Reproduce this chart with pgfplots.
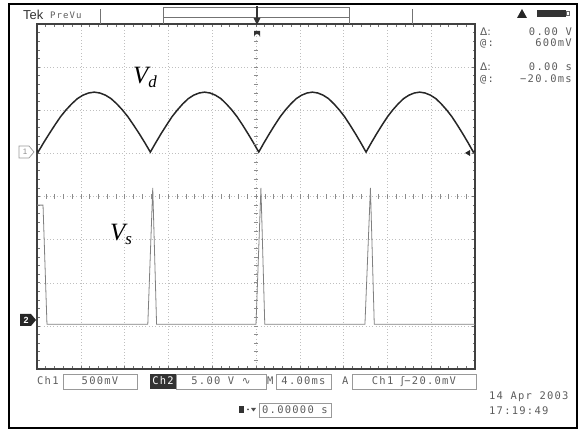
\documentclass[border=0pt]{standalone}
\usepackage{pgfplots}
\pgfplotsset{compat=1.18}
\usepackage{fontspec}
\setmainfont{Liberation Sans}
\newfontfamily\tnr{Liberation Serif}
\newfontfamily\djv{DejaVu Sans}
\newfontfamily\scopefont[LetterSpace=12]{DejaVu Sans Mono}
\definecolor{scr}{HTML}{5C5C5C}

\begin{document}
\begin{tikzpicture}
\useasboundingbox (0,0) rectangle (583bp,432bp);

% scope screen: 10 div x 4 ms, 8 div vertical (values in divisions)
\begin{axis}[
    at={(37bp,63bp)}, anchor=south west,
    scale only axis, width=438bp, height=345bp,
    xmin=0, xmax=40, ymin=0, ymax=8,
    xtick={0,4,...,40}, ytick={0,1,...,8},
    minor x tick num=4, minor y tick num=4,
    xticklabels={}, yticklabels={},
    tick align=inside, major tick length=3bp, minor tick length=2.5bp,
    tick style={black!55, line width=0.6bp},
    grid=major,
    major grid style={gray!50, dash pattern=on 0.7pt off 2.6pt},
    axis line style={black!75, line width=1.4bp},
]
% Vd (ch1)
\addplot[black!85, line width=1.5bp] coordinates {
    (0,5.07)
    (0.10,5.03) (0.61,5.25) (1.13,5.46) (1.64,5.66) (2.15,5.85) (2.66,6.01) (3.18,6.15)
    (3.69,6.27) (4.20,6.35) (4.71,6.40) (5.23,6.42) (5.74,6.40) (6.25,6.35) (6.76,6.27)
    (7.28,6.15) (7.79,6.01) (8.30,5.85) (8.81,5.66) (9.33,5.46) (9.84,5.25)
    (10.35,5.03) (10.85,5.25) (11.34,5.46) (11.84,5.66) (12.33,5.85) (12.83,6.01) (13.32,6.15)
    (13.82,6.27) (14.31,6.35) (14.81,6.40) (15.30,6.42) (15.80,6.40) (16.29,6.35) (16.79,6.27)
    (17.28,6.15) (17.78,6.01) (18.27,5.85) (18.77,5.66) (19.26,5.46) (19.76,5.25)
    (20.25,5.03) (20.74,5.25) (21.23,5.46) (21.72,5.66) (22.21,5.85) (22.70,6.01) (23.19,6.15)
    (23.68,6.27) (24.17,6.35) (24.66,6.40) (25.15,6.42) (25.64,6.40) (26.13,6.35) (26.62,6.27)
    (27.11,6.15) (27.60,6.01) (28.09,5.85) (28.58,5.66) (29.07,5.46) (29.56,5.25)
    (30.05,5.03) (30.54,5.25) (31.03,5.46) (31.52,5.66) (32.01,5.85) (32.50,6.01) (32.99,6.15)
    (33.48,6.27) (33.97,6.35) (34.46,6.40) (34.95,6.42) (35.44,6.40) (35.93,6.35) (36.42,6.27)
    (36.91,6.15) (37.40,6.01) (37.89,5.85) (38.38,5.66) (38.87,5.46) (39.36,5.25)
    (39.85,5.03) (40,5.06)
};
% Vs (ch2)
\addplot[black!50, line width=0.8bp] coordinates {
    (0,3.80) (0.55,3.80) (0.91,1.04)
    (10.12,1.04) (10.57,4.20) (10.92,1.04)
    (20.00,1.04) (20.45,4.20) (20.80,1.04)
    (29.95,1.04) (30.45,4.20) (30.80,1.04)
    (40,1.04)
};
\end{axis}

\begin{scope}[shift={(0bp,432bp)}, x=1bp, y=-1bp,
    font=\scopefont\fontsize{10.5}{11}\selectfont, text=scr]
  % outer border
  \draw[line width=2.2bp] (9,4) rectangle (577,428);

  % centre cross ticks
  \foreach \k in {1,...,49} \draw[black!45, line width=0.5bp] ({37+\k*8.76},194.3) -- ({37+\k*8.76},198.7);
  \foreach \k in {1,...,39} \draw[black!45, line width=0.5bp] (253.8,{24+\k*8.625}) -- (258.2,{24+\k*8.625});

  % header
  \node[anchor=base west, inner sep=0, font=\fontsize{13}{13}\selectfont, text=black!80] at (23,20) {Tek};
  \node[anchor=base west, inner sep=0, font=\scopefont\fontsize{9}{9}\selectfont] at (50,19) {PreVu};
  \draw[black!55, line width=0.6bp] (100,9) -- (100,24) (412,9) -- (412,24);
  \draw[black!55, line width=0.6bp] (163,24) -- (163,7) -- (349,7) -- (349,24);
  \draw[black!55, line width=0.6bp] (163,17) -- (349,17);
  \draw[black!80, line width=1.6bp] (257,6) -- (257,20);
  \fill[black!80] (253.5,18) -- (260.5,18) -- (257,25) -- cycle;
  \fill[black!80] (254,31) -- (260,31) -- (260,37) arc[start angle=0, end angle=-180, radius=3] -- cycle;

  % top right readouts
  \fill[black!85] (517,18) -- (522,9) -- (527,18) -- cycle;
  \fill[black!80] (537,10) rectangle (566,17);
  \draw[black!60, line width=0.6bp] (566,11.5) rectangle (569,15.5);
  \node[anchor=base west, inner sep=0] at (480,36) {\djv Δ:};
  \node[anchor=base east, inner sep=0] at (572,36) {0.00 V};
  \node[anchor=base west, inner sep=0] at (480,47) {@:};
  \node[anchor=base east, inner sep=0] at (572,47) {600mV};
  \node[anchor=base west, inner sep=0] at (480,71) {\djv Δ:};
  \node[anchor=base east, inner sep=0] at (572,71) {0.00 s};
  \node[anchor=base west, inner sep=0] at (480,83) {@:};
  \node[anchor=base east, inner sep=0] at (572,83) {−20.0ms};

  % channel markers
  \draw[black!40, line width=0.7bp] (19,146) -- (29,146) -- (34,152) -- (29,158) -- (19,158) -- cycle;
  \node[inner sep=0, font=\fontsize{8}{8}\selectfont, text=black!45] at (25,152) {1};
  \fill[black!85] (20,314) -- (31,314) -- (36,320) -- (31,326) -- (20,326) -- cycle;
  \node[inner sep=0, font=\bfseries\fontsize{9}{9}\selectfont, text=white] at (26,320) {2};
  \fill[black!85] (465,153) -- (470,150) -- (470,156) -- cycle;

  % trace labels
  \node[anchor=base west, inner sep=0, text=black] at (133,84)
    {\tnr\itshape\fontsize{25}{25}\selectfont V\raisebox{-4bp}{\fontsize{17}{17}\selectfont d}};
  \node[anchor=base west, inner sep=0, text=black] at (110,241)
    {\tnr\itshape\fontsize{25}{25}\selectfont V\raisebox{-4bp}{\fontsize{17}{17}\selectfont s}};

  % bottom status line
  \node[anchor=base west, inner sep=0] at (37,385) {Ch1};
  \draw[black!40, line width=0.6bp] (63,374) rectangle (137,389);
  \node[anchor=base, inner sep=0] at (100,385) {500mV};
  \fill[black!80] (150,374) rectangle (176,389);
  \node[anchor=base, inner sep=0, text=white] at (163,385) {Ch2};
  \draw[black!40, line width=0.6bp] (176,374) rectangle (266,389);
  \node[anchor=base, inner sep=0] at (221,385) {5.00 V {\djv ∿}};
  \node[anchor=base west, inner sep=0] at (267,385) {M};
  \draw[black!40, line width=0.6bp] (276,374) rectangle (331,389);
  \node[anchor=base, inner sep=0] at (303.5,385) {4.00ms};
  \node[anchor=base west, inner sep=0] at (342,385) {A};
  \draw[black!40, line width=0.6bp] (352,374) rectangle (476,389);
  \node[anchor=base, inner sep=0] at (414,385) {Ch1 {\djv ʃ}−20.0mV};

  \node[anchor=base west, inner sep=0] at (489,400) {14 Apr 2003};
  \node[anchor=base west, inner sep=0] at (489,415) {17:19:49};
  \fill[black!80] (239,406) rectangle (244,413);
  \fill[black!70] (248,409.5) circle (1);
  \fill[black!70] (251,408) -- (256,408) -- (253.5,411.5) -- cycle;
  \draw[black!40, line width=0.6bp] (259,403) rectangle (331,417);
  \node[anchor=base west, inner sep=0] at (262,414) {0.00000 s};
\end{scope}
\end{tikzpicture}
\end{document}
